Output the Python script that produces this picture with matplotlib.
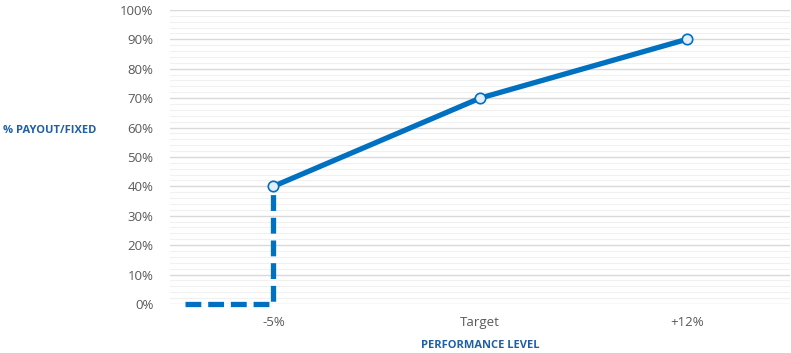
import matplotlib
matplotlib.use("Agg")
import matplotlib.pyplot as plt
from matplotlib.ticker import MultipleLocator, FuncFormatter

categories = ["-5%", "Target", "+12%"]
payout = [40, 70, 90]
# dashed threshold segment: below threshold payout is zero
dash_x = [-0.43, 0, 0]
dash_y = [0, 0, 40]

blue = "#0070C0"
label_blue = "#1F5FA8"
grey = "#595959"

plt.rcParams['font.family'] = ['Open Sans', 'DejaVu Sans']

fig = plt.figure(figsize=(7.91, 3.53), dpi=100)
ax = fig.add_axes([0.215, 0.139, 0.784, 0.833])

xs = list(range(len(categories)))
ax.plot(dash_x, dash_y, color=blue, lw=3.8, linestyle=(0, (3, 1.3)),
        dash_capstyle='butt', zorder=3, clip_on=False)
ax.plot(xs, payout, color=blue, lw=3.8, marker='o', markersize=7.5,
        markerfacecolor='#E3EEF9', markeredgecolor=blue, markeredgewidth=1.2, zorder=4,
        solid_capstyle='round', clip_on=False)

ax.set_xlim(-0.5, 2.5)
ax.set_ylim(0, 100)
ax.set_xticks(xs)
ax.set_xticklabels(categories)
ax.yaxis.set_major_locator(MultipleLocator(10))
ax.yaxis.set_minor_locator(MultipleLocator(2))
ax.yaxis.set_major_formatter(FuncFormatter(lambda v, p: f"{int(v)}%"))
ax.grid(which='major', axis='y', color='#D9D9D9', lw=1.0, zorder=0)
ax.grid(which='minor', axis='y', color='#F0F0F0', lw=0.8, zorder=0)
ax.set_axisbelow(True)
for s in ax.spines.values():
    s.set_visible(False)
ax.tick_params(axis='both', which='both', length=0, colors=grey, labelsize=9.5)
ax.tick_params(axis='y', pad=12)
ax.tick_params(axis='x', pad=9)

fig.text(50 / 791, 1 - 130 / 353, "% PAYOUT/FIXED", color=label_blue, fontsize=8,
         fontweight='bold', ha='center', va='center')
fig.text(480 / 791, 1 - 345 / 353, "PERFORMANCE LEVEL", color=label_blue, fontsize=8,
         fontweight='bold', ha='center', va='center')

fig.savefig("out.png", dpi=100)
